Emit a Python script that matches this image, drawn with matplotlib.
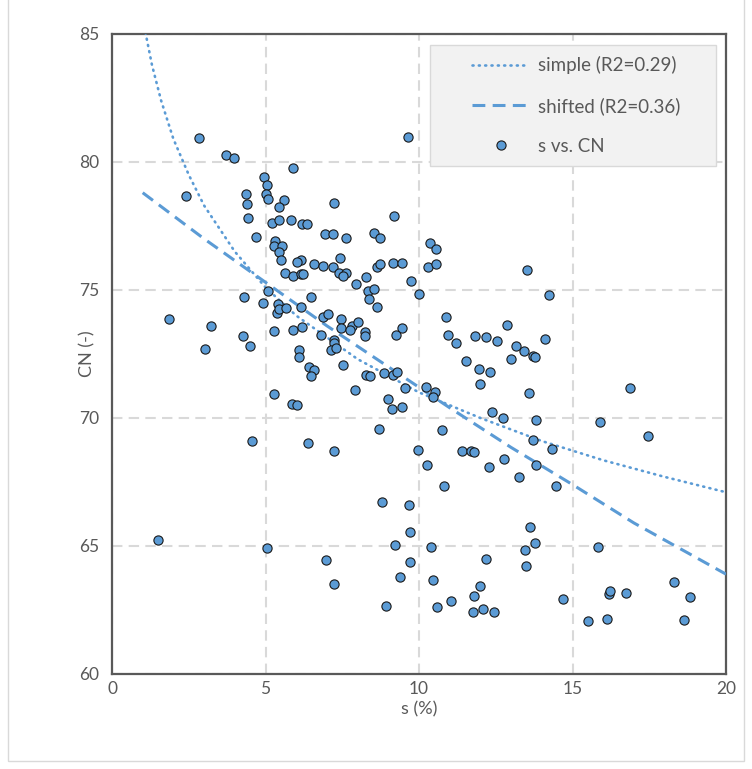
import numpy as np
import matplotlib
matplotlib.use("Agg")
import matplotlib.pyplot as plt
from matplotlib.lines import Line2D

plt.rcParams['font.family'] = ['Lato', 'DejaVu Sans']

s_obs = [2.83, 3.72, 3.98, 5.90, 4.94, 5.04, 4.37, 5.02, 5.08, 2.40,
         5.61, 4.41, 5.45, 4.44, 5.20, 5.45, 5.84, 6.20, 6.35, 6.95,
         4.69, 5.31, 5.28, 5.55, 5.45, 5.51, 6.16, 6.02, 6.59, 6.88,
         5.63, 5.91, 6.16, 6.21, 5.09, 4.31, 6.48, 9.63, 7.23, 9.18,
         7.21, 7.62, 8.52, 8.74, 10.35, 10.56, 7.43, 7.20, 7.39, 7.63,
         7.51, 8.28, 7.95, 8.62, 8.74, 9.16, 9.46, 10.29, 10.56, 9.74,
         8.35, 8.53, 8.38, 9.99, 13.53, 14.24, 9.46, 10.89, 10.95, 11.21,
         11.81, 12.17, 12.53, 12.88, 13.17, 13.43, 13.72, 13.79, 14.10, 11.53,
         11.95, 12.31, 11.99, 13.57, 9.55, 10.24, 10.53, 10.45, 9.44, 12.39,
         12.75, 13.81, 13.71, 14.32, 15.90, 16.86, 17.47, 10.74, 9.97, 11.39,
         11.70, 11.79, 12.78, 13.00, 13.82, 13.26, 8.63, 6.88, 7.04, 7.45,
         7.82, 8.02, 7.45, 7.74, 8.24, 8.25, 9.25, 6.82, 7.24, 7.23,
         7.13, 7.30, 7.52, 8.27, 8.41, 8.85, 9.16, 9.27, 7.92, 8.99,
         9.13, 8.71, 7.23, 10.27, 12.29, 10.80, 8.79, 9.66, 9.70, 9.21,
         10.39, 6.97, 9.71, 12.17, 9.38, 10.47, 7.23, 12.00, 11.80, 11.03,
         8.93, 10.60, 11.77, 12.09, 12.45, 4.91, 5.41, 5.37, 5.45, 5.66,
         6.17, 1.85, 3.22, 4.27, 4.49, 3.02, 5.27, 5.91, 6.20, 6.09,
         6.09, 6.42, 6.59, 6.48, 5.27, 5.87, 6.03, 4.56, 6.38, 1.51,
         5.06, 14.46, 13.62, 13.46, 13.78, 13.50, 14.68, 15.82, 18.30, 18.84,
         18.64, 16.18, 16.22, 16.75, 15.50, 16.13]
cn_obs = [80.94, 80.29, 80.16, 79.77, 79.43, 79.09, 78.75, 78.75, 78.57, 78.66,
          78.53, 78.36, 78.23, 77.80, 77.63, 77.73, 77.72, 77.59, 77.59, 77.19,
          77.08, 76.90, 76.72, 76.72, 76.50, 76.17, 76.18, 76.09, 76.00, 75.95,
          75.66, 75.54, 75.63, 75.64, 74.97, 74.73, 74.73, 80.96, 78.40, 77.88,
          77.20, 77.03, 77.24, 77.03, 76.85, 76.60, 76.26, 75.89, 75.65, 75.65,
          75.54, 75.50, 75.23, 75.91, 76.00, 76.04, 76.04, 75.91, 76.00, 75.35,
          74.97, 75.05, 74.64, 74.84, 75.78, 74.79, 73.52, 73.95, 73.25, 72.92,
          73.21, 73.18, 73.00, 73.63, 72.82, 72.62, 72.42, 72.39, 73.09, 72.23,
          71.93, 71.80, 71.33, 70.99, 71.18, 71.22, 71.03, 70.83, 70.43, 70.22,
          70.00, 69.91, 69.14, 68.80, 69.83, 71.16, 69.31, 69.53, 68.75, 68.71,
          68.71, 68.66, 68.39, 72.30, 68.16, 67.70, 74.34, 73.93, 74.06, 73.86,
          73.61, 73.74, 73.50, 73.44, 73.35, 73.21, 73.25, 73.24, 73.05, 72.92,
          72.66, 72.75, 72.06, 71.67, 71.63, 71.76, 71.67, 71.80, 71.08, 70.74,
          70.35, 69.57, 68.71, 68.16, 68.10, 67.34, 66.73, 66.61, 65.55, 65.03,
          64.97, 64.44, 64.39, 64.48, 63.79, 63.66, 63.53, 63.44, 63.06, 62.84,
          62.67, 62.63, 62.41, 62.54, 62.41, 74.50, 74.45, 74.11, 74.25, 74.29,
          74.34, 73.86, 73.61, 73.21, 72.82, 72.70, 73.39, 73.43, 73.57, 72.66,
          72.39, 72.00, 71.88, 71.63, 70.94, 70.56, 70.52, 69.10, 69.01, 65.23,
          64.93, 67.34, 65.75, 64.86, 65.11, 64.22, 62.93, 64.95, 63.61, 63.02,
          62.11, 63.14, 63.25, 63.15, 62.07, 62.15]

# trend lines as drawn in the reference
s_simple = [1.05, 1.3, 1.6, 2.0, 2.5, 3, 4, 5, 6, 8, 10, 12, 14, 16, 18, 20]
cn_simple = [85.3, 83.8, 82.4, 80.9, 79.5, 78.3, 76.5, 75.1, 74.0, 72.3,
             71.0, 70.0, 69.1, 68.35, 67.7, 67.1]
s_shift = [1, 3, 5, 7, 9, 11, 13, 15, 17, 20]
cn_shift = [78.8, 77.0, 75.3, 73.6, 72.0, 70.4, 68.85, 67.4, 65.9, 63.9]

labels = ['simple (R2=0.29)', 'shifted (R2=0.36)', 's vs. CN']
blue = '#5B9BD5'
grey_txt = '#595959'
W, H = 752, 769

fig = plt.figure(figsize=(7.52, 7.69), dpi=100)
ax = fig.add_axes([112 / W, 1 - 674 / H, 614 / W, 640 / H])

dot_style = (0, (0.4, 2.0))
dash_style = (0, (4.2, 2.4))
ax.plot(s_simple, cn_simple, color=blue, lw=1.9, linestyle=dot_style,
        dash_capstyle='round', zorder=3)
ax.plot(s_shift, cn_shift, color=blue, lw=2.2, linestyle=dash_style, zorder=3)
ax.scatter(s_obs, cn_obs, s=44, color=blue, edgecolor='#1a1a1a',
           linewidth=0.8, zorder=4)

ax.set_xlim(0, 20)
ax.set_ylim(60, 85)
ax.set_xticks(np.arange(0, 21, 5))
ax.set_yticks(np.arange(60, 86, 5))
ax.grid(True, color='#D9D9D9', lw=1.5, linestyle=(0, (5, 3)))
ax.set_axisbelow(True)
ax.tick_params(length=0, labelsize=12.5, colors=grey_txt)
ax.tick_params(axis='y', pad=9)
ax.tick_params(axis='x', pad=5)
for sp in ax.spines.values():
    sp.set_color('#595959')
    sp.set_linewidth(1.6)

ax.set_xlabel('s (%)', fontsize=13, color=grey_txt)
ax.set_ylabel('CN (-)', fontsize=13, color=grey_txt)
ax.xaxis.set_label_coords(0.5, -(701 - 674) / 640)
ax.yaxis.set_label_coords((95 - 112) / 614, 0.5)

# legend box (Excel style: wide side padding)
box = plt.Rectangle((430 / W, 1 - 166 / H), 286 / W, 121 / H,
                    transform=fig.transFigure, facecolor='#F2F2F2',
                    edgecolor='#D9D9D9', lw=1.0, zorder=4.5, clip_on=False)
ax.add_patch(box)

handles = [Line2D([], [], color=blue, lw=1.9, linestyle=dot_style,
                  dash_capstyle='round'),
           Line2D([], [], color=blue, lw=2.2, linestyle=dash_style),
           Line2D([], [], color=blue, marker='o', markersize=6.6, linestyle='none',
                  markeredgecolor='#1a1a1a', markeredgewidth=0.8)]
leg = ax.legend(handles, labels, loc='upper left',
                bbox_to_anchor=(472 / W, 1 - 56 / H),
                bbox_transform=fig.transFigure, fontsize=13.5,
                frameon=False, handlelength=3.05, handletextpad=0.45,
                labelspacing=1.22, borderpad=0, borderaxespad=0)
for t in leg.get_texts():
    t.set_color(grey_txt)

# chart area border
fig.add_artist(plt.Rectangle((8 / W, 8 / H), 736 / W, 780 / H,
                             transform=fig.transFigure, fill=False,
                             edgecolor='#D9D9D9', lw=1.0))

fig.savefig('out.png', dpi=100)
